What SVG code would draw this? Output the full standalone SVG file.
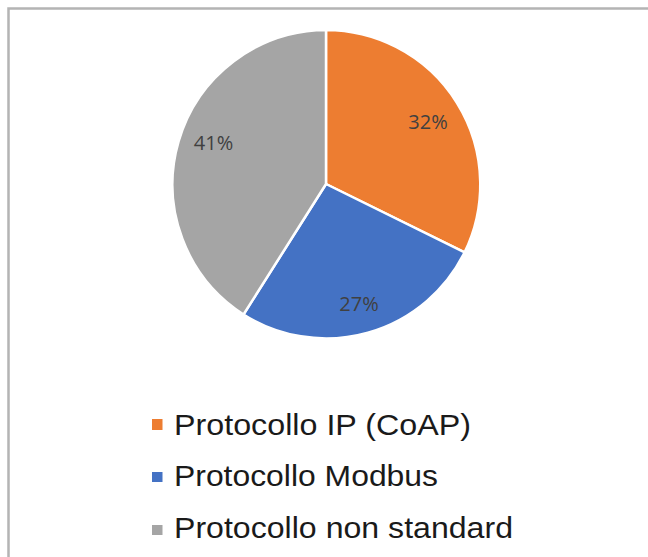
<svg xmlns="http://www.w3.org/2000/svg" width="648" height="557" viewBox="0 0 648 557">
  <style>
    .slice { stroke: #ffffff; stroke-width: 2.5; stroke-linejoin: round; }
    .pct { font-family: "Open Sans", "Liberation Sans", sans-serif; font-size: 20px; fill: #404040; text-anchor: middle; }
    .leg { font-family: "Liberation Sans", Arial, sans-serif; font-size: 30px; fill: #1a1a1a; }
  </style>
  <rect width="648" height="557" fill="#ffffff"/>
  <path d="M8.5 557 V8.5 H648" fill="none" stroke="#b4b4b4" stroke-width="2.5"/>
  <g id="pie">
    <g id="slice-ip">
      <path class="slice" fill="#ED7D31" d="M326 184 L326 30 A154.5 154.5 0 0 1 464.6 252.3 Z"/>
      <text class="pct" x="428" y="129">32%</text>
    </g>
    <g id="slice-modbus">
      <path class="slice" fill="#4472C4" d="M326 184 L464.6 252.3 A154.5 154.5 0 0 1 243.5 314.5 Z"/>
      <text class="pct" x="359" y="311">27%</text>
    </g>
    <g id="slice-nonstd">
      <path class="slice" fill="#A5A5A5" d="M326 184 L243.5 314.5 A154.5 154.5 0 0 1 326 30 Z"/>
      <text class="pct" x="213.5" y="150">41%</text>
    </g>
  </g>
  <g id="legend">
    <g id="legend-ip">
      <rect x="152" y="419" width="10.5" height="11" fill="#ED7D31"/>
      <text class="leg" x="174" y="434.5" textLength="297" lengthAdjust="spacingAndGlyphs">Protocollo IP (CoAP)</text>
    </g>
    <g id="legend-modbus">
      <rect x="152" y="472" width="10.5" height="10" fill="#4472C4"/>
      <text class="leg" x="174" y="485.5" textLength="264" lengthAdjust="spacingAndGlyphs">Protocollo Modbus</text>
    </g>
    <g id="legend-nonstd">
      <rect x="152" y="525" width="10.5" height="10" fill="#A5A5A5"/>
      <text class="leg" x="174" y="538" textLength="339" lengthAdjust="spacingAndGlyphs">Protocollo non standard</text>
    </g>
  </g>
</svg>
